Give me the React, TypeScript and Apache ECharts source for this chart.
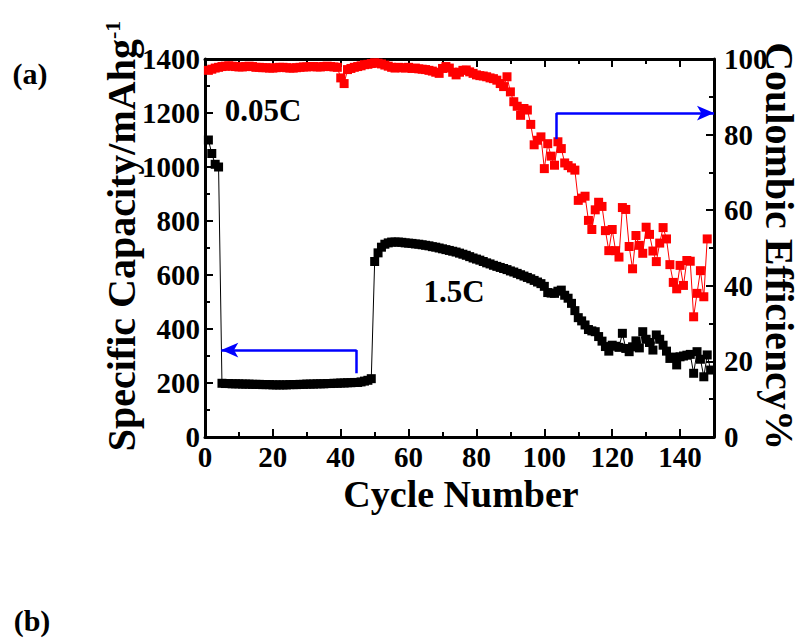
import React, { useEffect, useRef } from 'react';
import * as echarts from 'echarts';

// Specific capacity (mAh g^-1), cycles 1..149
const capacity: number[] = [
  1100, 1050, 1010, 1000,
  199, 198, 198, 197, 197, 197, 196, 196, 196, 195, 195, 195, 194, 194, 194,
  193, 193, 193, 193, 193, 194, 194, 194, 195, 195, 196,
  196, 196, 197, 197, 197, 198, 198, 199, 199, 200, 200, 201, 201, 202, 202,
  204, 207, 210, 216,
  650, 682, 703, 714, 719, 722, 722, 722, 721, 719, 718, 717, 715, 714, 712, 710, 708, 705, 703, 700,
  697, 694, 691, 688, 685, 681, 677, 673, 668, 663, 659, 655, 650, 645, 641, 636, 632, 628, 624, 620,
  615, 611, 606, 601, 596, 591, 586, 580, 574, 568, 558,
  535, 533, 532, 540, 544, 525, 514, 495, 468, 442, 430, 415, 398, 393, 390, 372, 355, 335, 318, 340,
  336, 332, 384, 328, 316, 334, 356, 330, 390, 362, 350, 322, 378, 362, 340, 318, 291, 296, 267, 297,
  300, 303, 306, 236, 316, 288, 223, 304, 248,
];

// Coulombic efficiency (%), cycles 1..148
const efficiency: number[] = [
  97.0, 97.3, 97.6, 97.8, 98.0,
  98.1, 98.2, 98.1, 98.0, 97.9, 97.9, 98.0, 98.1, 98.0, 97.8, 97.8, 97.7, 97.7, 97.6, 97.6, 97.7, 97.8,
  97.8, 97.7, 97.6, 97.6, 97.7, 97.8, 97.9, 97.9, 98.0, 98.0, 97.9, 97.9, 98.0, 98.1, 98.0, 97.9, 97.8,
  95.0, 93.5,
  97.2, 97.5, 97.8, 98.0, 98.2, 98.5, 98.6, 98.8, 99.0, 98.9, 98.7, 98.4, 98.1,
  97.8, 97.6, 97.8, 97.7, 97.6, 97.8, 97.5, 97.6, 97.4, 97.3, 97.2, 97.0, 96.8, 96.5, 96.2,
  97.5, 98.0, 97.6, 96.5, 95.8, 96.5, 97.0, 97.1, 96.6, 96.2, 95.8, 95.6, 95.5, 95.3, 95.0, 94.8, 94.4,
  93.5, 92.7, 95.3, 91.3, 88.7, 87.5, 85.1, 86.9, 86.5,
  82.7, 77.3, 78.5, 79.4, 71.0, 77.6, 74.3, 71.9, 78.1, 76.3, 72.5, 71.8, 71.2, 70.6,
  62.6, 63.2, 63.7, 57.3, 54.9, 60.1, 62.1, 61.0, 54.6, 49.3, 54.9, 49.3, 47.6, 60.7, 60.2, 50.4, 44.5,
  53.3, 50.7, 48.6, 55.5, 53.6, 49.2, 46.4, 51.3, 55.4, 52.4, 45.6, 40.9, 39.2, 45.4, 40.1, 46.7, 46.5,
  31.8, 38.0, 44.0, 37.1, 52.4,
];

const FONT = '"Liberation Serif", "Times New Roman", Times, serif';

export default function App() {
  const ref = useRef<HTMLDivElement>(null);

  useEffect(() => {
    if (!ref.current) return;
    const chart = echarts.init(ref.current, undefined, { renderer: 'svg' });

    const capData = capacity.map((v, i) => [i + 1, v]);
    const effData = efficiency.map((v, i) => [i + 1, v]);

    const tickLabel = {
      color: '#000',
      fontSize: 29,
      fontWeight: 'bold' as const,
      fontFamily: FONT,
      formatter: (v: number) => String(v),
    };
    const axisLine = { show: true, onZero: false, lineStyle: { color: '#000', width: 3 } };
    const axisTick = { show: true, inside: true, length: 8, lineStyle: { color: '#000', width: 2 } };
    const minorTick = { show: true, splitNumber: 2, length: 5, lineStyle: { color: '#000', width: 2 } };

    const arrowLine = {
      silent: true,
      symbol: ['none', 'arrow'],
      symbolSize: [11, 17],
      label: { show: false },
      emphasis: { disabled: true },
      lineStyle: { color: '#0000ff', width: 2.5, type: 'solid' },
    };

    const option: any = {
      animation: false,
      backgroundColor: '#ffffff',
      grid: { left: 205, right: 98, top: 59, bottom: 202, containLabel: false },
      xAxis: [
        {
          type: 'value', min: 0, max: 150, interval: 20, position: 'bottom',
          axisLine, axisTick, minorTick,
          axisLabel: { ...tickLabel, margin: 5, showMaxLabel: false },
          splitLine: { show: false },
        },
        {
          type: 'value', min: 0, max: 150, interval: 20, position: 'top',
          axisLine, axisTick, minorTick,
          axisLabel: { show: false },
          splitLine: { show: false },
        },
      ],
      yAxis: [
        {
          type: 'value', min: 0, max: 1400, interval: 200, position: 'left',
          axisLine, axisTick, minorTick,
          axisLabel: { ...tickLabel, margin: 5 },
          splitLine: { show: false },
        },
        {
          type: 'value', min: 0, max: 100, interval: 20, position: 'right',
          axisLine, axisTick, minorTick,
          axisLabel: { ...tickLabel, margin: 10 },
          splitLine: { show: false },
        },
      ],
      series: [
        {
          type: 'line', name: 'Specific Capacity', xAxisIndex: 0, yAxisIndex: 0,
          data: capData, symbol: 'rect', symbolSize: 9, showSymbol: true, clip: false,
          itemStyle: { color: '#000000' }, lineStyle: { color: '#000000', width: 1 },
          emphasis: { disabled: true }, z: 3,
          markLine: {
            ...arrowLine,
            data: [
              [{ coord: [44.7, 236], symbol: 'none' }, { coord: [44.7, 322], symbol: 'none' }],
              [{ coord: [44.7, 322], symbol: 'none' }, { coord: [4.8, 322] }],
            ],
          },
        },
        {
          type: 'line', name: 'Coulombic Efficiency', xAxisIndex: 0, yAxisIndex: 1,
          data: effData, symbol: 'rect', symbolSize: 9, showSymbol: true, clip: false,
          itemStyle: { color: '#ff0000' }, lineStyle: { color: '#ff0000', width: 1 },
          emphasis: { disabled: true }, z: 4,
          markLine: {
            ...arrowLine,
            data: [
              [{ coord: [103.5, 78.8], symbol: 'none' }, { coord: [103.5, 85.7], symbol: 'none' }],
              [{ coord: [103.5, 85.7], symbol: 'none' }, { coord: [150, 85.7] }],
            ],
          },
        },
      ],
      graphic: [
        {
          type: 'text', x: 30, y: 73,
          style: { text: '(a)', font: `bold 30px ${FONT}`, fill: '#000', align: 'center', verticalAlign: 'middle' },
        },
        {
          type: 'text', x: 32, y: 620,
          style: { text: '(b)', font: `bold 30px ${FONT}`, fill: '#000', align: 'center', verticalAlign: 'middle' },
        },
        {
          type: 'text', x: 263, y: 110,
          style: { text: '0.05C', font: `bold 31px ${FONT}`, fill: '#000', align: 'center', verticalAlign: 'middle' },
        },
        {
          type: 'text', x: 454, y: 291,
          style: { text: '1.5C', font: `bold 31px ${FONT}`, fill: '#000', align: 'center', verticalAlign: 'middle' },
        },
        {
          type: 'text', x: 461, y: 494,
          style: { text: 'Cycle Number', font: `bold 38px ${FONT}`, fill: '#000', align: 'center', verticalAlign: 'middle' },
        },
        {
          type: 'text', x: 121, y: 236, rotation: Math.PI / 2,
          style: {
            text: '{a|Specific Capacity/mAhg}{s|-1}',
            align: 'center', verticalAlign: 'middle',
            rich: {
              a: { font: `bold 40px ${FONT}`, fill: '#000', fontSize: 40, fontWeight: 'bold', fontFamily: FONT },
              s: { font: `bold 22px ${FONT}`, fill: '#000', fontSize: 22, fontWeight: 'bold', fontFamily: FONT, verticalAlign: 'top' },
            },
          },
        },
        {
          type: 'text', x: 779, y: 246, rotation: -Math.PI / 2,
          style: { text: 'Coulombic Efficiency%', font: `bold 40px ${FONT}`, fill: '#000', align: 'center', verticalAlign: 'middle' },
        },
      ],
    };

    chart.setOption(option);
    return () => chart.dispose();
  }, []);

  return (
    <div
      ref={ref}
      style={{ position: 'fixed', left: 0, top: 0, width: 812, height: 639, background: '#fff' }}
    />
  );
}
